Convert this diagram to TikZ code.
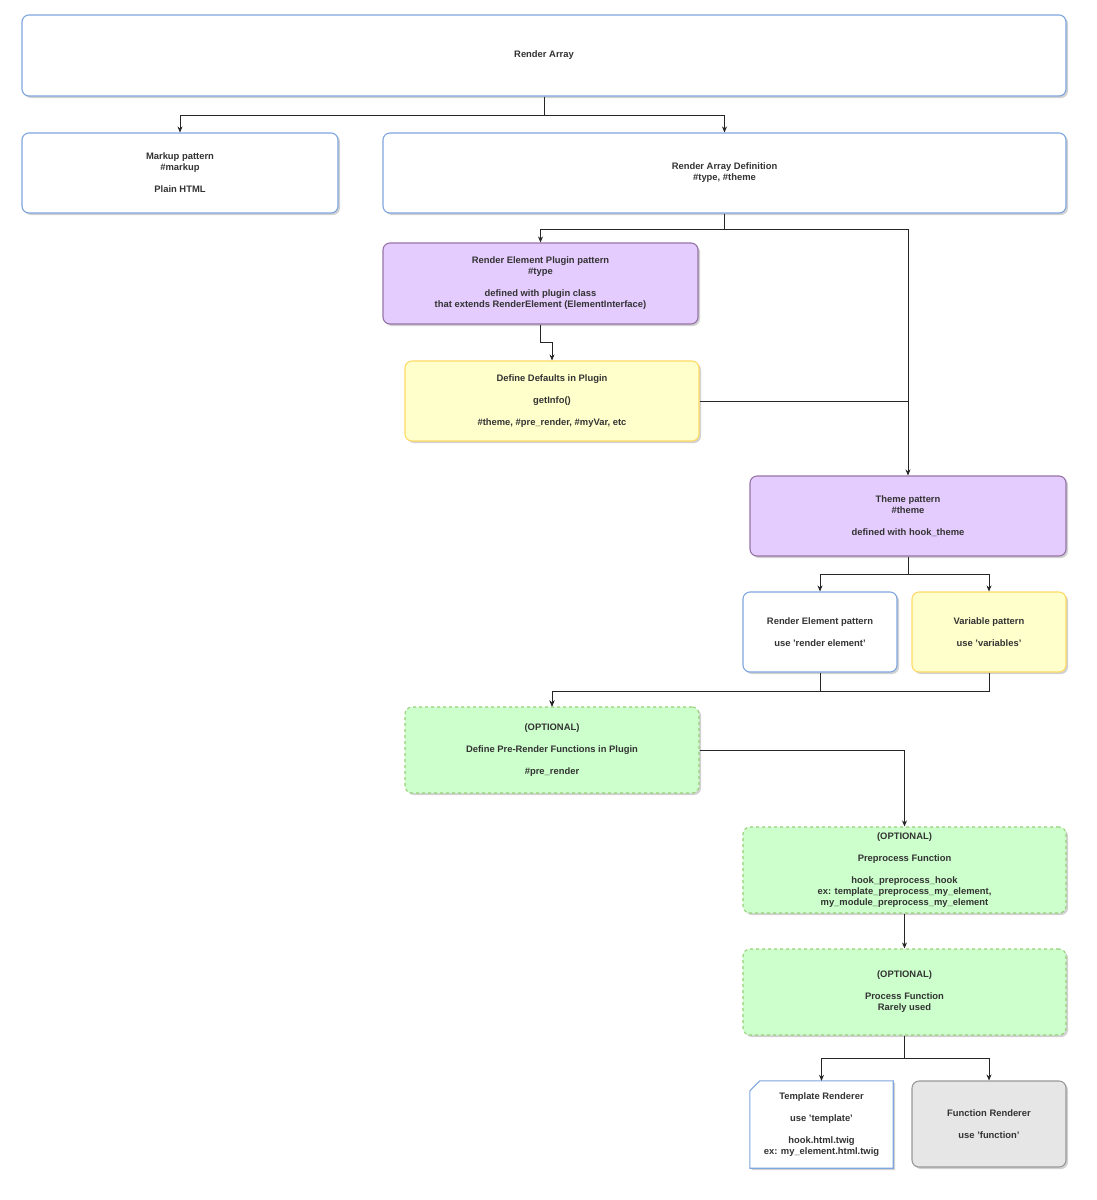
\documentclass[tikz,border=0pt]{standalone}
\usepackage{fontspec}
\setmainfont{Liberation Sans}
\usetikzlibrary{arrows.meta,shadows,calc}
\definecolor{bblue}{HTML}{7EA6E0}
\definecolor{pfill}{HTML}{E5CCFF}
\definecolor{pdraw}{HTML}{9673A6}
\definecolor{yfill}{HTML}{FFFFCC}
\definecolor{ydraw}{HTML}{FFD966}
\definecolor{gfill}{HTML}{CCFFCC}
\definecolor{gdraw}{HTML}{97D077}
\definecolor{grfill}{HTML}{E6E6E6}
\definecolor{grdraw}{HTML}{999999}
\definecolor{txt}{HTML}{333333}
\begin{document}
\begin{tikzpicture}[x=1pt,y=-1pt,
  box/.style={rounded corners=7pt, line width=1.1pt, align=center, inner sep=0pt,
    font=\fontsize{9.4}{11}\selectfont\bfseries, text=txt,
    drop shadow={shadow xshift=2pt, shadow yshift=-2pt, fill=black, opacity=0.18}},
  bluebox/.style={box, draw=bblue, fill=white},
  purplebox/.style={box, draw=pdraw, fill=pfill},
  yellowbox/.style={box, draw=ydraw, fill=yfill},
  greenbox/.style={box, draw=gdraw, fill=gfill, dash pattern=on 3pt off 3pt},
  graybox/.style={box, draw=grdraw, fill=grfill},
  conn/.style={draw=black!85, line width=0.7pt, -{Stealth[length=6pt,width=5pt]}},
  plain/.style={draw=black!85, line width=0.7pt}
]
\useasboundingbox (0,0) rectangle (1097,1200);
\fill[white] (0,0) rectangle (1097,1200);

\node[bluebox, minimum width=1044pt, minimum height=81pt] (ra) at (544,55.5) {Render Array};
\node[bluebox, minimum width=316pt, minimum height=80pt] (mk) at (180,173) {Markup pattern\\\#markup\\[11pt]Plain HTML};
\node[bluebox, minimum width=683pt, minimum height=80pt] (rad) at (724.5,173) {Render Array Definition\\\#type, \#theme};
\node[purplebox, minimum width=315pt, minimum height=81pt] (plg) at (540.5,283.5) {Render Element Plugin pattern\\\#type\\[11pt]defined with plugin class\\that extends RenderElement (ElementInterface)};
\node[yellowbox, minimum width=294pt, minimum height=80pt] (def) at (552,401) {Define Defaults in Plugin\\[11pt]getInfo()\\[11pt]\#theme, \#pre\_render, \#myVar, etc};
\node[purplebox, minimum width=316pt, minimum height=80pt] (th) at (908,516) {Theme pattern\\\#theme\\[11pt]defined with hook\_theme};
\node[bluebox, minimum width=154pt, minimum height=80pt] (rel) at (820,632) {Render Element pattern\\[11pt]use 'render element'};
\node[yellowbox, minimum width=154pt, minimum height=80pt] (var) at (989,632) {Variable pattern\\[11pt]use 'variables'};
\node[greenbox, minimum width=294pt, minimum height=86pt] (opt) at (552,750) {(OPTIONAL)\\[11pt]Define Pre-Render Functions in Plugin\\[11pt]\#pre\_render};
\node[greenbox, minimum width=323pt, minimum height=86pt] (pre) at (904.5,870) {(OPTIONAL)\\[11pt]Preprocess Function\\[11pt]hook\_preprocess\_hook\\ex: template\_preprocess\_my\_element,\\my\_module\_preprocess\_my\_element};
\node[greenbox, minimum width=323pt, minimum height=86pt] (proc) at (904.5,992) {(OPTIONAL)\\[11pt]Process Function\\Rarely used};
\node[minimum width=143pt, minimum height=87pt, inner sep=0pt] (tpl) at (821.5,1124.5) {};
\draw[line width=1.1pt, draw=bblue, fill=white, drop shadow={shadow xshift=2pt, shadow yshift=-2pt, fill=black, opacity=0.18}]
  ($(tpl.north west)+(0,10)$) -- ($(tpl.north west)+(10,0)$) -- (tpl.north east) -- (tpl.south east) -- (tpl.south west) -- cycle;
\node[align=center, font=\fontsize{9.4}{11}\selectfont\bfseries, text=txt] at (tpl.center) {Template Renderer\\[11pt]use 'template'\\[11pt]hook.html.twig\\ex: my\_element.html.twig};
\node[graybox, minimum width=154pt, minimum height=86pt] (fn) at (989,1124) {Function Renderer\\[11pt]use 'function'};

\draw[conn] (ra.south) -- ++(0,19) -| (mk.north);
\draw[conn] (ra.south) -- ++(0,19) -| (rad.north);
\draw[conn] (rad.south) -- ++(0,16) -| (plg.north);
\draw[conn] (rad.south) -- ++(0,16) -| (th.north);
\draw[conn] (plg.south) -- ++(0,18) -| (def.north);
\draw[plain] (def.east) -- (def.east -| th.north);
\draw[conn] (th.south) -- ++(0,18) -| (rel.north);
\draw[conn] (th.south) -- ++(0,18) -| (var.north);
\draw[conn] (rel.south) -- ++(0,19) -| (opt.north);
\draw[conn] (var.south) -- ++(0,19) -| (opt.north);
\draw[conn] (opt.east) -| (pre.north);
\draw[conn] (pre.south) -- (proc.north);
\draw[conn] (proc.south) -- ++(0,23) -| (tpl.north);
\draw[conn] (proc.south) -- ++(0,23) -| (fn.north);
\end{tikzpicture}
\end{document}
